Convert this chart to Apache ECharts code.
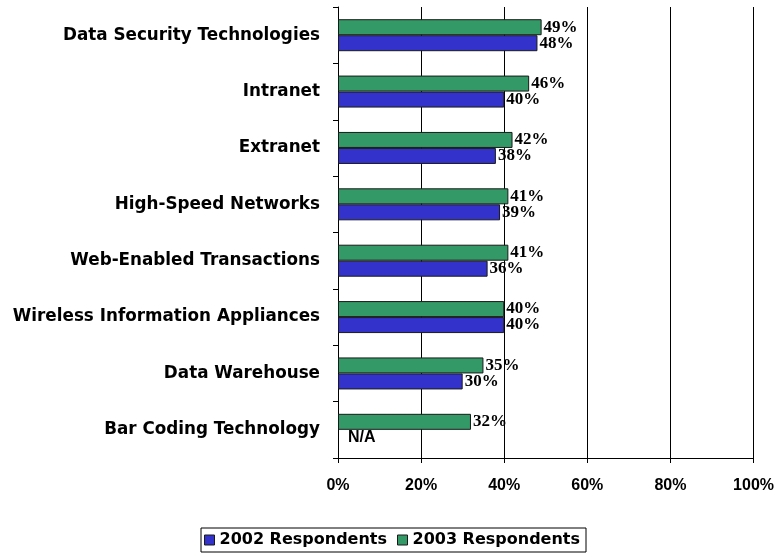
<!DOCTYPE html>
<html>
<head>
<meta charset="utf-8">
<script src="https://cdn.jsdelivr.net/npm/echarts@6/dist/echarts.min.js"></script>
<style>
html,body{margin:0;padding:0;background:#fff;}
#chart{width:777px;height:558px;}
</style>
</head>
<body>
<div id="chart"></div>
<script>
var categories = ['Data Security Technologies','Intranet','Extranet','High-Speed Networks',
    'Web-Enabled Transactions','Wireless Information Appliances','Data Warehouse','Bar Coding Technology'];
var values2002 = [48, 40, 38, 39, 36, 40, 30, null];
var values2003 = [49, 46, 42, 41, 41, 40, 35, 32];
var xTicks = [0, 20, 40, 60, 80, 100];

var sans = 'Liberation Sans, Arial, sans-serif';
var wide = 'DejaVu Sans, Verdana, sans-serif';
var serif = 'Liberation Serif, Times New Roman, serif';
var myChart = echarts.init(document.getElementById('chart'));

// missing value -> N/A
var data2002 = values2002.map(function (v) {
    if (v === null) {
        return {
            value: 0,
            itemStyle: {borderWidth: 0},
            label: {formatter: 'N/A', distance: 10, fontFamily: sans, fontSize: 16}
        };
    }
    return v;
});

var valueLabel = {
    show: true, position: 'right', distance: 2,
    formatter: '{c}%',
    fontFamily: serif, fontWeight: 'bold', fontSize: 17, color: '#000'
};

var option = {
    backgroundColor: '#fff',
    animation: false,
    grid: {left: 338, right: 23, top: 7, bottom: 100},
    legend: {
        bottom: 6,
        left: 201,
        icon: 'rect',
        itemWidth: 10,
        itemHeight: 10,
        itemGap: 10,
        borderColor: '#000',
        borderWidth: 1,
        padding: [4, 6, 4, 3],
        itemStyle: {borderColor: '#1a1a1a', borderWidth: 1},
        textStyle: {fontFamily: wide, fontWeight: 'bold', fontSize: 16, color: '#000'},
        data: ['2002 Respondents', '2003 Respondents']
    },
    xAxis: {
        type: 'value',
        min: 0,
        max: 100,
        interval: 20,
        axisLine: {show: true, lineStyle: {color: '#000', width: 1}},
        axisTick: {show: true, length: 5, lineStyle: {color: '#000'}},
        splitLine: {show: true, lineStyle: {color: '#000', width: 1}},
        axisLabel: {
            margin: 20,
            fontFamily: sans, fontWeight: 'bold', fontSize: 16, color: '#000',
            formatter: function (v) { return xTicks.indexOf(v) >= 0 ? v + '%' : ''; }
        }
    },
    yAxis: {
        type: 'category',
        inverse: true,
        data: categories,
        axisLine: {show: true, lineStyle: {color: '#000', width: 1}},
        axisTick: {show: true, length: 5, lineStyle: {color: '#000'}},
        axisLabel: {
            margin: 18,
            fontFamily: wide, fontWeight: 'bold', fontSize: 16.8, color: '#000'
        }
    },
    series: [
        {
            name: '2003 Respondents',
            type: 'bar',
            data: values2003,
            barWidth: 16,
            barGap: '0%',
            itemStyle: {color: '#339966', borderColor: '#1a1a1a', borderWidth: 1},
            label: valueLabel
        },
        {
            name: '2002 Respondents',
            type: 'bar',
            data: data2002,
            barWidth: 16,
            barGap: '0%',
            itemStyle: {color: '#3333CC', borderColor: '#1a1a1a', borderWidth: 1},
            label: valueLabel
        }
    ]
};

myChart.setOption(option);
</script>
</body>
</html>
